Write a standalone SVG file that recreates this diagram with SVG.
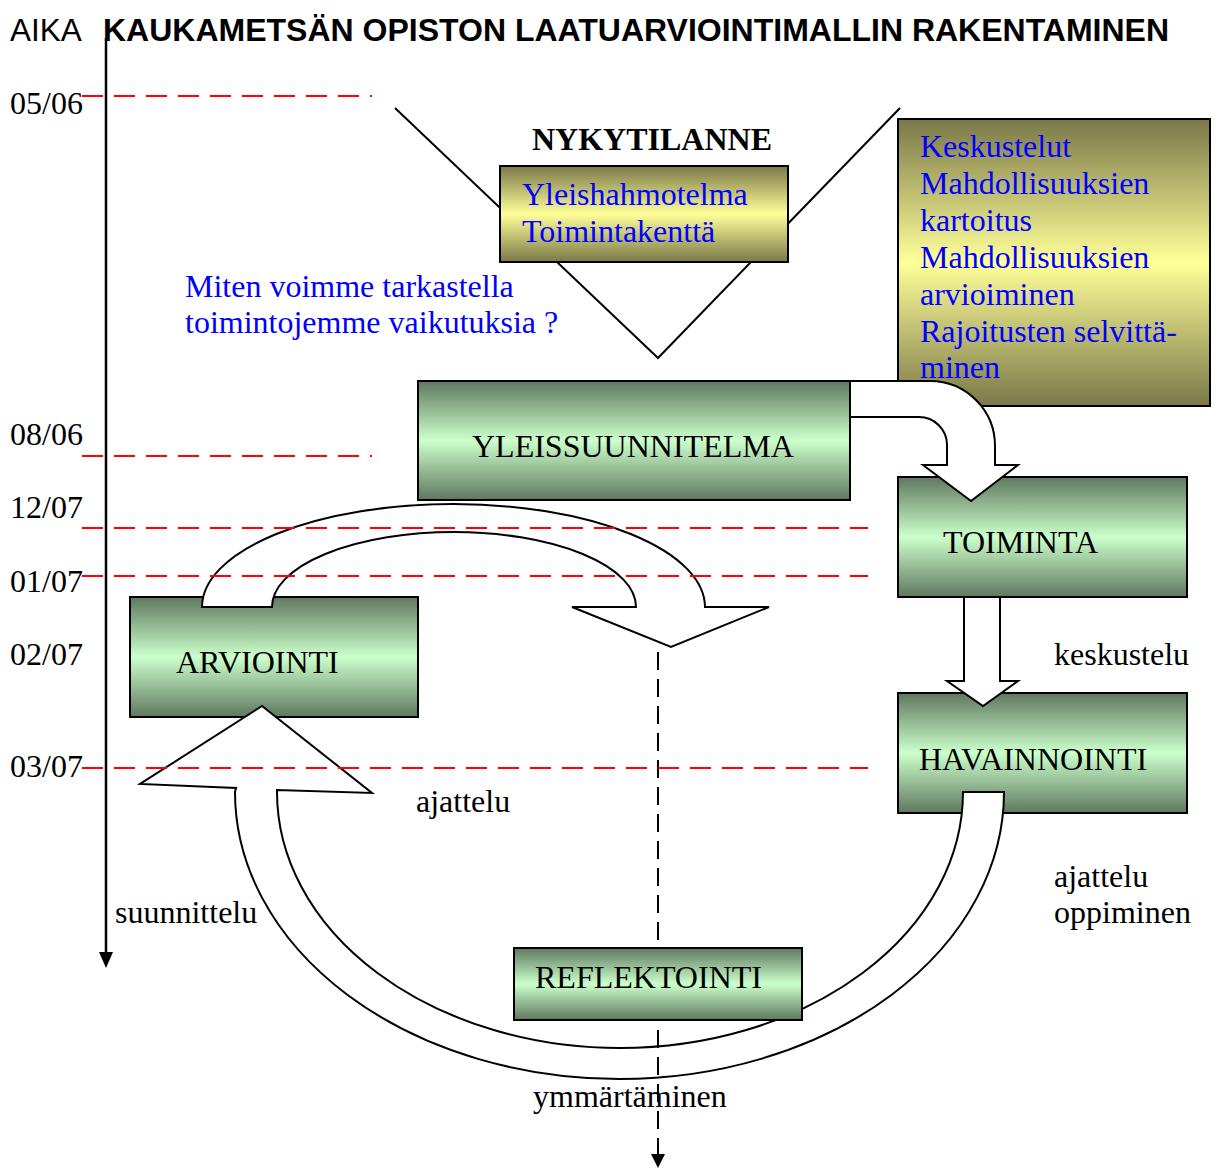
<svg xmlns="http://www.w3.org/2000/svg" width="1218" height="1171" viewBox="0 0 1218 1171">
<defs>
<linearGradient id="gGreen" x1="0" y1="0" x2="0" y2="1">
<stop offset="0" stop-color="#5f785f"/>
<stop offset="0.5" stop-color="#ccffcc"/>
<stop offset="1" stop-color="#5f785f"/>
</linearGradient>
<linearGradient id="gYellow" x1="0" y1="0" x2="0" y2="1">
<stop offset="0" stop-color="#7a7848"/>
<stop offset="0.5" stop-color="#ffff99"/>
<stop offset="1" stop-color="#7a7848"/>
</linearGradient>
<style>
.t{font-family:"Liberation Serif","Times New Roman",serif;font-size:32px;fill:#000}
.b{fill:#0000ff}
.box{stroke:#000;stroke-width:2}
.grn{fill:url(#gGreen)}
.yel{fill:url(#gYellow)}
.red{stroke:#ff0000;stroke-width:2;stroke-dasharray:21 11;fill:none}
.blk{fill:#fff;stroke:#000;stroke-width:2;stroke-linejoin:miter}
</style>
</defs>
<rect width="1218" height="1171" fill="#fff"/>

<g id="title">
<text x="10" y="41" style="font-family:'Liberation Sans',Arial,sans-serif;font-size:31.5px">AIKA</text>
<text x="103" y="41" style="font-family:'Liberation Sans',Arial,sans-serif;font-size:32px;font-weight:bold">KAUKAMETSÄN OPISTON LAATUARVIOINTIMALLIN RAKENTAMINEN</text>
</g>

<g id="funnel">
<polyline points="395,108 658,358 900,108" fill="none" stroke="#000" stroke-width="2"/>
</g>

<g id="nykytilanne">
<text class="t" x="652" y="150" text-anchor="middle" font-weight="bold">NYKYTILANNE</text>
<rect class="box yel" x="500" y="166" width="288" height="96"/>
<text class="t b" x="522" y="205">Yleishahmotelma</text>
<text class="t b" x="522" y="242">Toimintakenttä</text>
</g>

<g id="kysymys">
<text class="t b" x="185" y="297">Miten voimme tarkastella</text>
<text class="t b" x="185" y="333">toimintojemme vaikutuksia ?</text>
</g>

<g id="keskustelut">
<rect class="box yel" x="898" y="119" width="312" height="287"/>
<text class="t b" x="920" y="157">Keskustelut</text>
<text class="t b" x="920" y="194">Mahdollisuuksien</text>
<text class="t b" x="920" y="231">kartoitus</text>
<text class="t b" x="920" y="268">Mahdollisuuksien</text>
<text class="t b" x="920" y="305">arvioiminen</text>
<text class="t b" x="920" y="342">Rajoitusten selvittä-</text>
<text class="t b" x="920" y="378">minen</text>
</g>

<g id="yleissuunnitelma">
<rect class="box grn" x="418" y="381" width="432" height="119"/>
<text class="t" x="472" y="457">YLEISSUUNNITELMA</text>
</g>

<g id="toiminta">
<rect class="box grn" x="898" y="477" width="289" height="120"/>
<text class="t" x="943" y="553">TOIMINTA</text>
</g>

<g id="havainnointi">
<rect class="box grn" x="898" y="693" width="289" height="120"/>
<text class="t" x="919" y="770">HAVAINNOINTI</text>
</g>

<g id="arviointi">
<rect class="box grn" x="130" y="597" width="288" height="120"/>
<text class="t" x="176" y="673">ARVIOINTI</text>
</g>

<g id="labels">
<text class="t" x="1054" y="665">keskustelu</text>
<text class="t" x="416" y="812">ajattelu</text>
<text class="t" x="1054" y="887">ajattelu</text>
<text class="t" x="1054" y="923">oppiminen</text>
<text class="t" x="115" y="923">suunnittelu</text>
<text class="t" x="533" y="1107">ymmärtäminen</text>
</g>

<g id="connectors">
<path class="blk" d="M850,381 H930 A65,65 0 0 1 995,446 V465 H1018 L971,501 L923,465 H947 V445 A28,28 0 0 0 919,417 H850 Z"/>
<path class="blk" d="M964,597 V681 H947 L983,706 L1018,681 H1000 V597 Z"/>
<path class="blk" d="M202,607 A251.5,103 0 0 1 705,607 H769 L671,647 L572,607 H636 A182,75 0 0 0 272,607 Z"/>
<path class="blk" d="M963,792 H1004 A384.5,287 0 0 1 235,792 L236,788 L140,784 L262,706 L372,793 L277,790 L277,792 A343,256 0 0 0 963,792 Z"/>
<line x1="658" y1="652" x2="658" y2="1154" stroke="#000" stroke-width="2" stroke-dasharray="18 9"/>
<path d="M651,1154 L665,1154 L658,1168 Z" fill="#000"/>
</g>

<g id="reflektointi">
<rect class="box grn" x="514" y="948" width="288" height="72"/>
<text class="t" x="535" y="988">REFLEKTOINTI</text>
</g>

<g id="timeline">
<line class="red" x1="82" y1="96" x2="372" y2="96"/>
<line class="red" x1="82" y1="456" x2="372" y2="456"/>
<line class="red" x1="82" y1="528" x2="868" y2="528"/>
<line class="red" x1="82" y1="576" x2="868" y2="576"/>
<line class="red" x1="82" y1="768" x2="868" y2="768"/>
<line x1="106" y1="38" x2="106" y2="954" stroke="#000" stroke-width="2.5"/>
<path d="M99,952 L113,952 L106,968 Z" fill="#000"/>
<text class="t" x="10" y="114">05/06</text>
<text class="t" x="10" y="445">08/06</text>
<text class="t" x="10" y="518">12/07</text>
<text class="t" x="10" y="592">01/07</text>
<text class="t" x="10" y="665">02/07</text>
<text class="t" x="10" y="777">03/07</text>
</g>
</svg>
